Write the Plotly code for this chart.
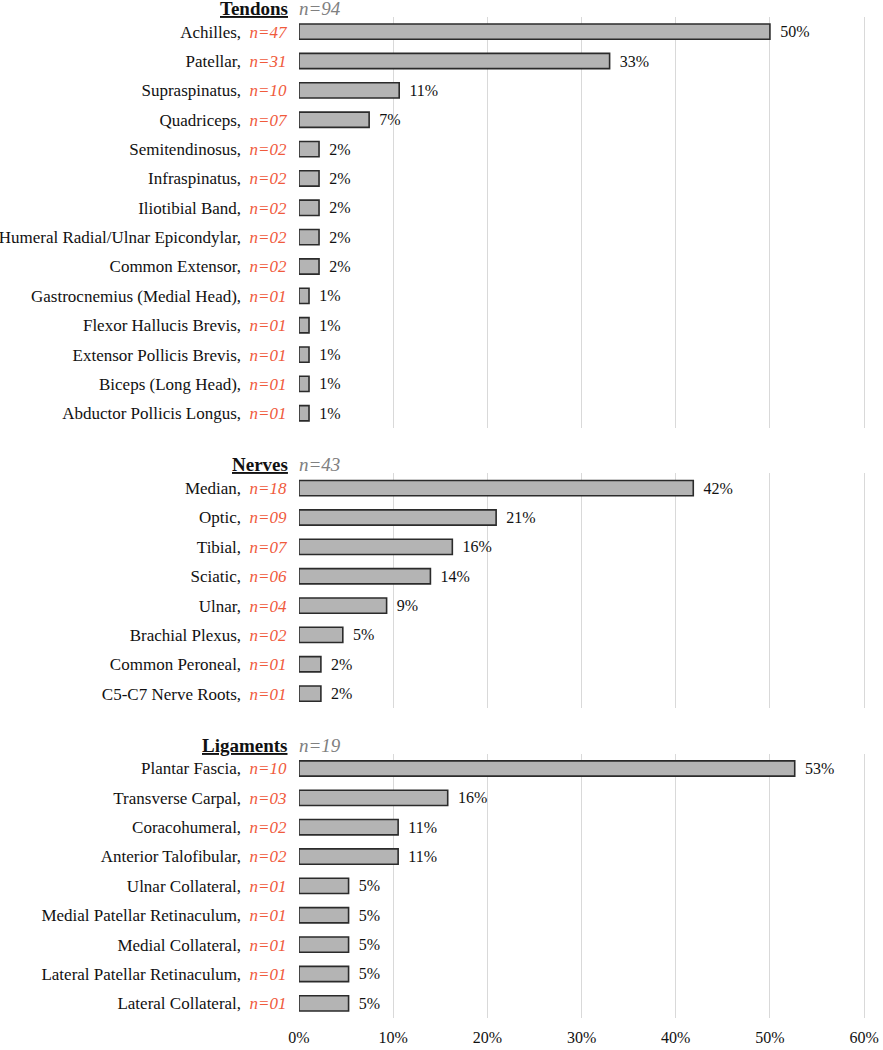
import plotly.graph_objects as go

# ---- data ----
tendon_names = ["Achilles", "Patellar", "Supraspinatus", "Quadriceps", "Semitendinosus",
                "Infraspinatus", "Iliotibial Band", "Humeral Radial/Ulnar Epicondylar",
                "Common Extensor", "Gastrocnemius (Medial Head)", "Flexor Hallucis Brevis",
                "Extensor Pollicis Brevis", "Biceps (Long Head)", "Abductor Pollicis Longus"]
tendon_counts = [47, 31, 10, 7, 2, 2, 2, 2, 2, 1, 1, 1, 1, 1]
tendon_total = 94

nerve_names = ["Median", "Optic", "Tibial", "Sciatic", "Ulnar", "Brachial Plexus",
               "Common Peroneal", "C5-C7 Nerve Roots"]
nerve_counts = [18, 9, 7, 6, 4, 2, 1, 1]
nerve_total = 43

ligament_names = ["Plantar Fascia", "Transverse Carpal", "Coracohumeral",
                  "Anterior Talofibular", "Ulnar Collateral", "Medial Patellar Retinaculum",
                  "Medial Collateral", "Lateral Patellar Retinaculum", "Lateral Collateral"]
ligament_counts = [10, 3, 2, 2, 1, 1, 1, 1, 1]
ligament_total = 19

group_titles = ["Tendons", "Nerves", "Ligaments"]
x_tickvals = [0, 10, 20, 30, 40, 50, 60]
x_ticktext = ["0%", "10%", "20%", "30%", "40%", "50%", "60%"]

groups = [
    (group_titles[0], tendon_names, tendon_counts, tendon_total),
    (group_titles[1], nerve_names, nerve_counts, nerve_total),
    (group_titles[2], ligament_names, ligament_counts, ligament_total),
]

# ---- layout geometry ----
W, H = 883, 1050
mt, mb, ml, mr = 17, 32, 299, 17
plot_h = H - mt - mb
gap_px = 45.5
nrows_total = sum(len(g[1]) for g in groups)
row_px = (plot_h - gap_px * (len(groups) - 1)) / nrows_total

FONT = "Liberation Serif, Times New Roman, serif"
RED = "#f05a3c"
GREY = "#808080"
INK = "#111111"

fig = go.Figure()
annotations = []
layout_axes = {}
top = plot_h
for i, (title, names, counts, total) in enumerate(groups):
    n = len(names)
    h = n * row_px
    d1 = min(1.0, max(0.0, top / plot_h))
    d0 = min(1.0, max(0.0, (top - h) / plot_h))
    if i == len(groups) - 1:
        d0 = 0.0
    top = top - h - gap_px
    suffix = "" if i == 0 else str(i + 1)
    xa = "x" + suffix
    ya = "y" + suffix
    pct = [100.0 * c / total for c in counts]
    ticktext = [f"{nm},&nbsp;&nbsp;<i><span style='color:{RED}'>n={c:02d}</span></i>"
                for nm, c in zip(names, counts)]
    fig.add_trace(go.Bar(
        x=pct, y=names, orientation="h", xaxis=xa, yaxis=ya,
        marker=dict(color="#b4b4b4", line=dict(color="#2b2b2b", width=1.6)),
        width=0.52,
        text=[f"&nbsp;\u2009{p:.0f}%" for p in pct], textposition="outside",
        constraintext="none",
        textfont=dict(family=FONT, size=16, color=INK),
        cliponaxis=False, showlegend=False, hoverinfo="skip",
    ))
    layout_axes["xaxis" + suffix] = dict(
        domain=[0, 1], range=[0, 60.2], anchor=ya,
        tickvals=x_tickvals, ticktext=x_ticktext,
        showticklabels=(i == len(groups) - 1),
        showgrid=True, gridcolor="#d9d9d9", gridwidth=1,
        zeroline=False, showline=False, automargin=False,
        ticks="outside", ticklen=5, tickcolor="rgba(0,0,0,0)",
        tickfont=dict(family=FONT, size=16, color=INK),
    )
    layout_axes["yaxis" + suffix] = dict(
        domain=[d0, d1], anchor=xa, type="category",
        categoryorder="array", categoryarray=names,
        autorange="reversed", automargin=False,
        tickvals=names, ticktext=ticktext,
        ticks="outside", ticklen=8, tickcolor="rgba(0,0,0,0)",
        tickfont=dict(family=FONT, size=17, color=INK),
        showgrid=False, zeroline=False, showline=False,
    )
    annotations.append(dict(
        xref="paper", yref=ya + " domain", x=0, y=1, xanchor="right", yanchor="bottom",
        xshift=-9, yshift=-4,
        text=f"<b><u>{title}</u></b>", showarrow=False,
        font=dict(family=FONT, size=19, color=INK),
    ))
    annotations.append(dict(
        xref="paper", yref=ya + " domain", x=0, y=1, xanchor="left", yanchor="bottom",
        xshift=-2, yshift=-4,
        text=f"<i>n={total}</i>", showarrow=False,
        font=dict(family=FONT, size=19, color=GREY),
    ))

fig.update_layout(
    width=W, height=H,
    margin=dict(t=mt, b=mb, l=ml, r=mr),
    plot_bgcolor="white", paper_bgcolor="white",
    annotations=annotations,
    **layout_axes,
)

fig.write_html("out.html", config={"displayModeBar": False},
               post_script="document.body.style.margin='0';")
